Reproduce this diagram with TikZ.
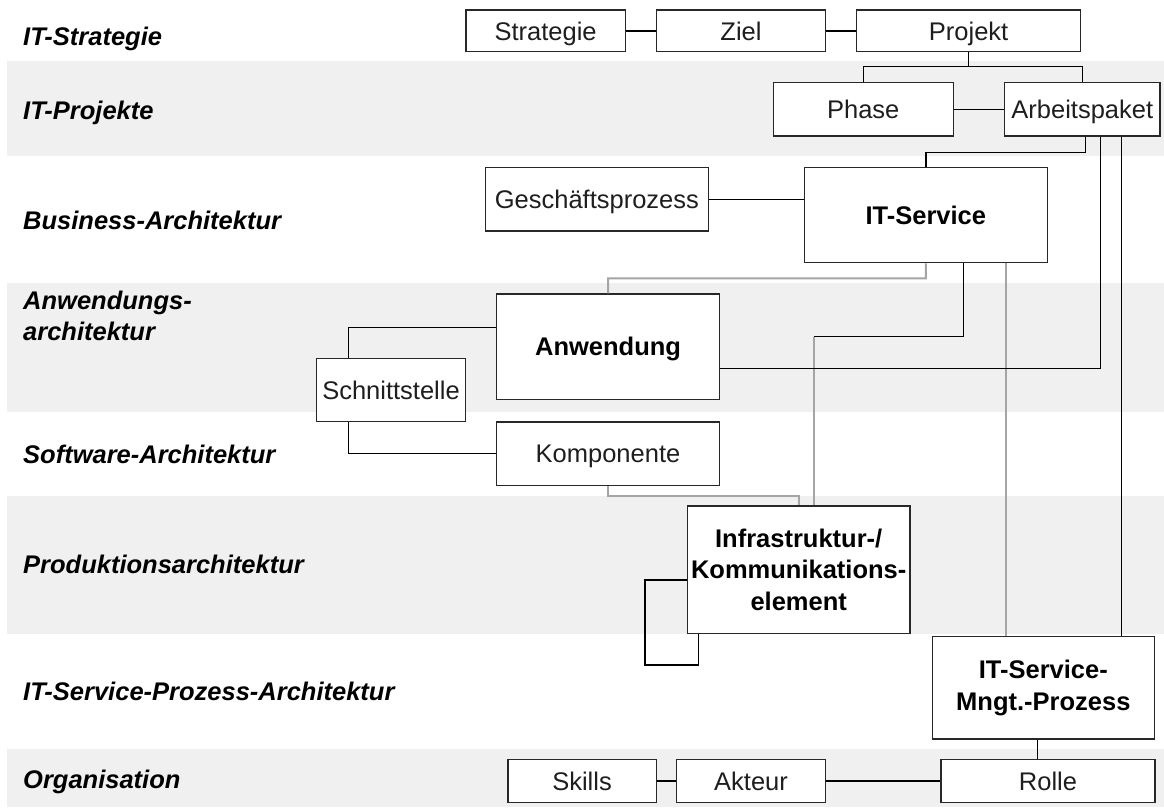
\documentclass[tikz,border=0pt]{standalone}
\usepackage{fontspec}
\setmainfont{Liberation Sans}
\definecolor{bandgray}{RGB}{240,240,240}
\definecolor{boxline}{RGB}{40,40,40}
\definecolor{txt}{RGB}{30,30,30}
\definecolor{linegray}{RGB}{165,165,165}
\begin{document}
\begin{tikzpicture}[x=1pt,y=-1pt,
  box/.style={draw=boxline, line width=1.4pt, fill=white, inner sep=0pt,
    text=txt, font=\fontsize{25.5}{31.5}\selectfont, align=center},
  oneline/.style={text height=22.5pt, text depth=4.2pt},
  bbox/.style={box, text=black, font=\fontsize{25.5}{31.5}\selectfont\bfseries},
  lbl/.style={anchor=base west, inner sep=0pt, text=black,
    font=\fontsize{25.5}{31}\selectfont\bfseries\itshape, align=left},
  conn/.style={draw=black, line width=1.3pt},
  gconn/.style={draw=linegray, line width=2pt},
  band/.style={fill=bandgray, draw=none}]

% canvas
\useasboundingbox (0,0) rectangle (1164,807);
\fill[white] (0,0) rectangle (1164,807);

% layer bands
\fill[band] (7,61)    rectangle (1164,155.5);
\fill[band] (7,283)   rectangle (1164,411.5);
\fill[band] (7,495.5) rectangle (1164,634);
\fill[band] (7,749)   rectangle (1164,807);

% layer labels
\node[lbl] (lStrat) at (23,45)    {IT-Strategie};
\node[lbl] (lProj)  at (23,119)   {IT-Projekte};
\node[lbl] (lBus)   at (23,229.5) {Business-Architektur};
\node[lbl] (lAnw)   at (23,340)   {Anwendungs-\\architektur};
\node[lbl] (lSw)    at (23,463.5) {Software-Architektur};
\node[lbl] (lProd)  at (23,573.5) {Produktionsarchitektur};
\node[lbl] (lItsp)  at (23,700)   {IT-Service-Prozess-Architektur};
\node[lbl] (lOrg)   at (23,788.5) {Organisation};

% elements
\node[box, oneline, minimum width=159.3, minimum height=41.7] (strat)  at (545.65,30.85) {Strategie};
\node[box, oneline, minimum width=169.4, minimum height=41.7] (ziel)   at (741,30.85)    {Ziel};
\node[box, oneline, minimum width=224.1, minimum height=41.7] (proj)   at (968.65,30.85) {Projekt};
\node[box, oneline, minimum width=179.9, minimum height=53.3] (phase)  at (863.25,109.35) {Phase};
\node[box, oneline, minimum width=155.4, minimum height=53.3] (apaket) at (1082.3,109.35) {Arbeitspaket};
\node[box, oneline, minimum width=222.7, minimum height=63.7] (gp)     at (596.85,199.15) {Geschäftsprozess};
\node[bbox, oneline, minimum width=243.1, minimum height=95.4] (itsvc)  at (925.85,215)  {IT-Service};
\node[bbox, oneline, minimum width=222.9, minimum height=105.3] (anw)   at (608.05,346.65) {Anwendung};
\node[box, oneline, minimum width=148.6, minimum height=63.4] (schn)   at (391,390)      {Schnittstelle};
\node[box, oneline, minimum width=222.6, minimum height=63.3] (komp)   at (608,453.65)   {Komponente};
\node[bbox, minimum width=222.6, minimum height=127.3] (infra) at (798.7,569.65)
  {Infrastruktur-/\\Kommunikations-\\element};
\node[bbox, minimum width=222, minimum height=102.3] (mngt)   at (1043.3,687.85)
  {IT-Service-\\Mngt.-Prozess};
\node[box, oneline, minimum width=148.5, minimum height=43.4] (skills) at (582.05,781)   {Skills};
\node[box, oneline, minimum width=149.4, minimum height=43.4] (akteur) at (751,781)      {Akteur};
\node[box, oneline, minimum width=214, minimum height=43.4]   (rolle)  at (1048,781)     {Rolle};

% junction points of the orthogonal connectors
\coordinate (pj) at (968.65,66.7);
\coordinate (j1) at (925.85,152.7);
\coordinate (g1) at (608,278.3);
\coordinate (k1) at (814.3,336.7);
\coordinate (k2) at (608,495.7);
\coordinate (lp) at (645,665);
\coordinate (apA) at ([xshift=3pt]apaket.south);
\coordinate (apB) at ([xshift=18pt]apaket.south);
\coordinate (apC) at ([xshift=39.4pt]apaket.south);
\coordinate (isB) at ([xshift=37.85pt]itsvc.south);
\coordinate (isG) at ([xshift=79.75pt]itsvc.south);

% grey relations
\draw[gconn] (anw.north) -- (g1) -| (itsvc.south);
\draw[gconn] (k1) -- (k1 |- infra.north);
\draw[gconn] (komp.south) -- (k2) -| (infra.north);
\draw[gconn] (isG) -- (isG |- mngt.north);

% black relations
\draw[conn] (strat) -- (ziel);
\draw[conn] (ziel) -- (proj);
\draw[conn] (proj.south) -- (pj);
\draw[conn] (phase.north) |- (pj) -| (apaket.north);
\draw[conn] (phase) -- (apaket);
\draw[conn] (itsvc.north) -- (j1) -| (apA);
\draw[conn] (apB) |- ([yshift=-21.6pt]anw.east);
\draw[conn] (apC) -- (apC |- mngt.north);
\draw[conn] (gp.east) -- (gp.east -| itsvc.west);
\draw[conn] (k1) -| (isB);
\draw[conn] ([xshift=-42.7pt]schn.north) |- ([yshift=19.4pt]anw.west);
\draw[conn] ([xshift=-42.7pt]schn.south) |- (komp.west);
\draw[conn] ([yshift=-10.35pt]infra.west) -| (lp) -| ([xshift=-100.5pt]infra.south);
\draw[conn] ([xshift=-6pt]mngt.south) -- ([xshift=-6pt]mngt.south |- rolle.north);
\draw[conn] (skills) -- (akteur);
\draw[conn] (akteur) -- (rolle);
\end{tikzpicture}
\end{document}
